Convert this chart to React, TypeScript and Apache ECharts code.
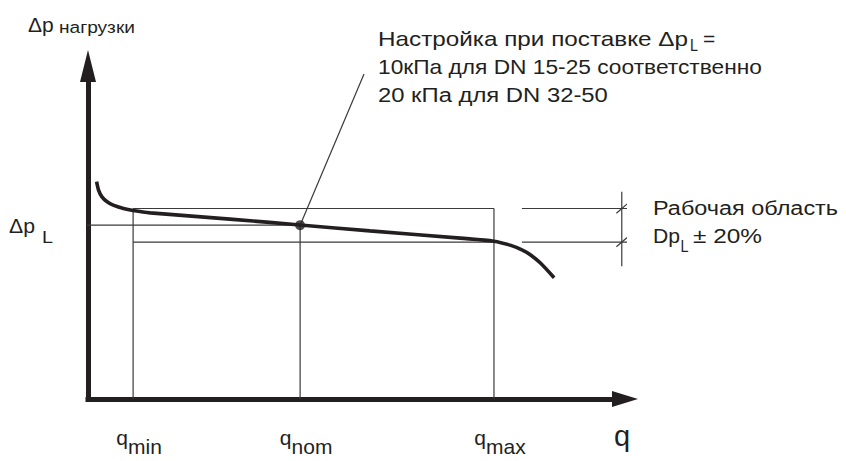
import React, { useEffect, useRef } from 'react';
import * as echarts from 'echarts';

// ---- data (q: 0..100 along the axis, Δp: 0..100 up the axis) ----
const Q_TICKS = [8.4, 39.5, 75.6]; // q_min, q_nom, q_max
const Q_SUBS = ['min', 'nom', 'max'];
const CURVE_Q = [1.6, 2.0, 2.6, 3.5, 4.7, 6.6, 8.4, 11.6, 27.0, 39.5, 52.5, 69.3, 75.6, 78.6, 80.8, 82.3, 84.2, 86.8];
const CURVE_DP = [65.3, 62.6, 60.7, 59.3, 58.2, 57.2, 56.6, 55.9, 53.95, 52.25, 50.5, 48.3, 47.4, 46.2, 44.8, 43.4, 40.9, 36.4];
const DP_L = 52.2;
const BAND_TOP = 57.2;
const BAND_BOTTOM = 47.1;
const DPL_LINE_START = -3.9;
const LEADER_END = [51.4, 97.6];
const EXT_RANGE = [80.8, 101];
const DIM_Q = 99.4;
const DIM_RANGE = [39.9, 62.2];

const ANNOTATION_LINES = [
  'Настройка при поставке Δp',
  '10кПа для DN 15-25 соответственно',
  '20 кПа для DN 32-50',
];
const WORK_AREA_TITLE = 'Рабочая область';
const WORK_AREA_RANGE = '± 20%';

const INK = '#231f20';
const THIN = '#3a3a3a';
const FONT = 'Liberation Sans';

let measureCtx: CanvasRenderingContext2D | null = null;
function textWidth(t: string, size: number): number {
  if (!measureCtx) measureCtx = document.createElement('canvas').getContext('2d');
  if (!measureCtx) return t.length * size * 0.55;
  measureCtx.font = `${size}px "${FONT}"`;
  return measureCtx.measureText(t).width;
}

function label(text: string, x: number, baseline: number, size: number, target?: number) {
  const sx = target ? target / textWidth(text, size) : 1;
  return {
    type: 'text',
    x,
    y: baseline - 0.35 * size,
    scaleX: sx,
    silent: true,
    z: 10,
    style: {
      text,
      x: 0,
      y: 0,
      fill: INK,
      fontSize: size,
      fontFamily: FONT,
      align: 'left',
      verticalAlign: 'middle',
      textAlign: 'left',
      textVerticalAlign: 'middle',
    },
  };
}

export default function App() {
  const ref = useRef<HTMLDivElement>(null);
  useEffect(() => {
    if (!ref.current) return;
    const chart = echarts.init(ref.current, undefined, { renderer: 'svg' });
    const [qMin, qNom, qMax] = Q_TICKS;
    const segments: number[][][] = [
      [[DPL_LINE_START, DP_L], [qNom, DP_L]],
      [[qMin, BAND_TOP], [qMax, BAND_TOP]],
      [[qMin, BAND_BOTTOM], [qMax, BAND_BOTTOM]],
      [[qMin, BAND_TOP], [qMin, 0]],
      [[qNom, DP_L], [qNom, 0]],
      [[qMax, BAND_TOP], [qMax, 0]],
      [[qNom, DP_L], LEADER_END],
      [[EXT_RANGE[0], BAND_TOP], [EXT_RANGE[1], BAND_TOP]],
      [[EXT_RANGE[0], BAND_BOTTOM], [EXT_RANGE[1], BAND_BOTTOM]],
      [[DIM_Q, DIM_RANGE[1]], [DIM_Q, DIM_RANGE[0]]],
      [[DIM_Q - 1, BAND_TOP - 1.4], [DIM_Q + 1, BAND_TOP + 1.4]],
      [[DIM_Q - 1, BAND_BOTTOM - 1.4], [DIM_Q + 1, BAND_BOTTOM + 1.4]],
    ];
    const option: any = {
      animation: false,
      grid: { left: 88, right: 221, top: 66, bottom: 62, containLabel: false, outerBoundsMode: 'none' },
      xAxis: {
        type: 'value',
        min: 0,
        max: 100,
        axisLine: {
          show: true,
          onZero: false,
          symbol: ['none', 'triangle'],
          symbolSize: [16, 26],
          lineStyle: { color: INK, width: 5, cap: 'square' },
        },
        axisTick: { show: false },
        splitLine: { show: false },
        axisLabel: {
          show: true,
          customValues: Q_TICKS,
          margin: 28,
          formatter: (v: number) => {
            const i = Q_TICKS.indexOf(v);
            return `{q|q}{s|${i >= 0 ? Q_SUBS[i] : ''}}`;
          },
          rich: {
            q: { fontSize: 21, lineHeight: 21, fontFamily: FONT, color: INK, verticalAlign: 'top', padding: [0, 0, 0, 12] },
            s: { fontSize: 21, lineHeight: 21, fontFamily: FONT, color: INK, verticalAlign: 'top', padding: [9, 0, 0, 0] },
          },
        },
        name: 'q',
        nameLocation: 'end',
        nameGap: -11,
        nameTextStyle: { fontSize: 29, fontFamily: FONT, color: INK, verticalAlign: 'top', padding: [22, 0, 0, 0] },
      },
      yAxis: {
        type: 'value',
        min: 0,
        max: 100,
        axisLine: {
          show: true,
          onZero: false,
          symbol: ['none', 'triangle'],
          symbolSize: [16, 32],
          lineStyle: { color: INK, width: 5, cap: 'square' },
        },
        axisTick: { show: false },
        splitLine: { show: false },
        axisLabel: { show: false },
      },
      series: [
        ...segments.map((s) => ({
          type: 'line',
          data: s,
          symbol: 'none',
          clip: false,
          silent: true,
          z: 2,
          lineStyle: { color: THIN, width: 1.2 },
        })),
        {
          type: 'line',
          name: 'Δp',
          data: CURVE_Q.map((q, i) => [q, CURVE_DP[i]]),
          smooth: 0.3,
          symbol: 'none',
          z: 3,
          lineStyle: { color: INK, width: 3.6 },
        },
        {
          type: 'scatter',
          data: [[qNom, DP_L]],
          symbolSize: 10,
          z: 4,
          itemStyle: { color: INK },
        },
      ],
      graphic: [
        label('Δp', 28, 31.7, 21),
        label('нагрузки', 59, 33.3, 17, 76),
        label('Δp', 9, 232.7, 20, 26),
        label('L', 42, 243, 17, 11),
        label(ANNOTATION_LINES[0], 378, 45.5, 21, 310),
        label('L', 690, 51.5, 17, 8),
        label('=', 703, 45.5, 21),
        label(ANNOTATION_LINES[1], 378, 74, 21, 384),
        label(ANNOTATION_LINES[2], 378, 102.5, 21, 230),
        label(WORK_AREA_TITLE, 653, 215, 21, 185),
        label('Dp', 653, 243, 21, 27),
        label('L', 680.5, 252, 17, 8),
        label(WORK_AREA_RANGE, 693, 243, 21, 69),
      ],
    };
    chart.setOption(option);
    return () => chart.dispose();
  }, []);
  return <div ref={ref} style={{ position: 'fixed', left: 0, top: 0, width: 846, height: 461, background: '#fff' }} />;
}
